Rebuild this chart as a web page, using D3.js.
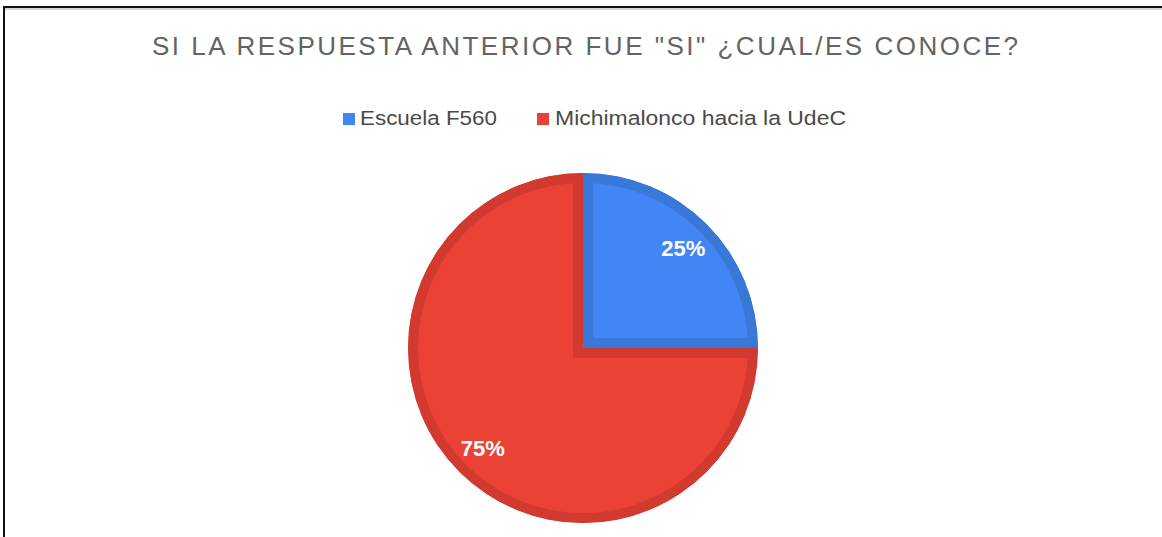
<!DOCTYPE html>
<html>
<head>
<meta charset="utf-8">
<script src="https://cdn.jsdelivr.net/npm/d3@7"></script>
<style>
  html, body { margin: 0; padding: 0; background: #fff; }
  svg { display: block; }
</style>
</head>
<body>
<svg id="chart" width="1162" height="537"></svg>
<script>
// Chart data
const categories = ["Escuela F560", "Michimalonco hacia la UdeC"];
const values = [25, 75];
const fillColors = ["#4285F4", "#EA4335"];
const edgeColors = ["#3A78D8", "#D33A2F"];
const titleText = "SI LA RESPUESTA ANTERIOR FUE \"SI\" ¿CUAL/ES CONOCE?";

const width = 1162, height = 537;
const svg = d3.select("#chart");
const font = "'Liberation Sans', Arial, sans-serif";

// Frame: top and left edges with a soft shadow under the top line
svg.append("rect").attr("x", 4).attr("y", 8).attr("width", width - 4).attr("height", 2).attr("fill", "#d6d6d6");
svg.append("rect").attr("x", 3).attr("y", 6).attr("width", width - 3).attr("height", 2).attr("fill", "#111");
svg.append("rect").attr("x", 3).attr("y", 6).attr("width", 2).attr("height", height - 6).attr("fill", "#111");

// Title (spaced lettering)
svg.append("text")
  .attr("x", 152).attr("y", 55)
  .attr("font-family", font)
  .attr("font-size", 26)
  .attr("textLength", 866)
  .attr("lengthAdjust", "spacing")
  .attr("fill", "#636363")
  .text(titleText);

// Legend
const legendItems = [
  { x: 343, textX: 360, len: 137 },
  { x: 537, textX: 555, len: 291 }
];
const legend = svg.append("g");
categories.forEach((c, i) => {
  legend.append("rect")
    .attr("x", legendItems[i].x).attr("y", 113)
    .attr("width", 12).attr("height", 12)
    .attr("fill", fillColors[i]);
  legend.append("text")
    .attr("x", legendItems[i].textX).attr("y", 125)
    .attr("font-family", font)
    .attr("font-size", 19.5)
    .attr("textLength", legendItems[i].len)
    .attr("lengthAdjust", "spacingAndGlyphs")
    .attr("fill", "#4a4a4a")
    .text(c);
});

// Pie
const cx = 583, cy = 348, R = 175;
const pie = d3.pie().sort(null).value(d => d)(values);
const arc = d3.arc().innerRadius(0).outerRadius(R);
const labelArc = d3.arc().innerRadius(R * 0.81).outerRadius(R * 0.81);

const g = svg.append("g").attr("transform", `translate(${cx},${cy})`);
const defs = svg.append("defs");

pie.forEach((p, i) => {
  const id = "slice-clip-" + i;
  defs.append("clipPath").attr("id", id)
    .append("path").attr("d", arc(p));
  g.append("path")
    .attr("d", arc(p))
    .attr("fill", fillColors[i])
    .attr("stroke", edgeColors[i])
    .attr("stroke-width", 20)
    .attr("stroke-linejoin", "miter")
    .attr("clip-path", `url(#${id})`);
});

// Percentage labels
const total = d3.sum(values);
g.selectAll("text.pct")
  .data(pie)
  .join("text")
  .attr("class", "pct")
  .attr("transform", d => `translate(${labelArc.centroid(d)})`)
  .attr("text-anchor", "middle")
  .attr("dy", "0.36em")
  .attr("font-family", font)
  .attr("font-size", 22)
  .attr("font-weight", "bold")
  .attr("fill", "#fff")
  .text(d => Math.round(d.data / total * 100) + "%");
</script>
</body>
</html>
